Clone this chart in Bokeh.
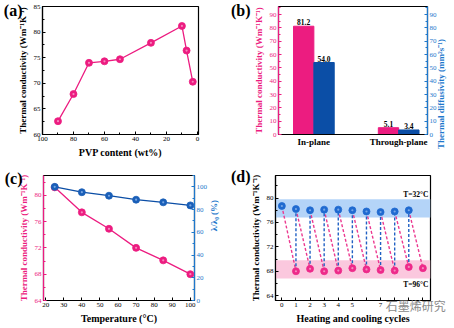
import math
from bokeh.plotting import figure
from bokeh.layouts import column, row
from bokeh.models import Range1d, LinearAxis, FixedTicker, BoxAnnotation, ColumnDataSource
from bokeh.core.properties import value
from bokeh.transform import dodge
from bokeh.embed import file_html
from bokeh.resources import INLINE

# ---------------- data ----------------
# (a)
pvp_content = [90, 80, 70, 60, 50, 30, 10, 7, 3]
pvp_tc = [62.6, 67.9, 74.0, 74.3, 74.7, 77.9, 81.2, 76.4, 70.3]
# (b)
directions = ["In-plane", "Through-plane"]
dir_tc = [81.2, 5.1]
dir_diff = [54.0, 3.4]
# (c)
temperature = [25, 40, 55, 70, 85, 100]
temp_tc = [81.2, 77.4, 74.9, 72.0, 70.1, 68.0]
temp_ratio = [100.0, 95.3, 92.2, 88.7, 86.4, 83.7]
# (d)
cycles_cool = [0, 1, 2, 3, 4, 5, 6, 7, 8, 9]
tc_cool = [78.7, 78.2, 78.0, 78.1, 78.1, 78.0, 77.8, 77.7, 77.8, 78.0]
cycles_hot = [1, 2, 3, 4, 5, 6, 7, 8, 9, 10]
tc_hot = [68.0, 68.4, 68.0, 68.1, 68.5, 68.3, 68.2, 68.1, 68.7, 68.5]
band_cool = [76.8, 79.8]
band_hot = [66.8, 69.8]
label_cool = "T=32°C"
label_hot = "T=96°C"
watermark = "石墨烯研究"

PINK = "#EC1C80"
BLUE = "#0B4EA6"
BLUE_AX = "#1E78CC"
SERIF = "Liberation Serif"


def style_axis(ax, color="black", label_size="9px", tick_size="7px"):
    ax.axis_line_color = color
    ax.axis_line_width = 1.2
    ax.major_tick_line_color = color
    ax.minor_tick_line_color = color
    ax.major_tick_in = 3
    ax.major_tick_out = 0
    ax.minor_tick_in = 2
    ax.minor_tick_out = 0
    ax.major_label_text_font = SERIF
    ax.major_label_text_font_size = tick_size
    ax.major_label_text_color = color
    ax.major_label_standoff = 2
    ax.axis_label_text_font = SERIF
    ax.axis_label_text_font_style = "bold"
    ax.axis_label_text_font_size = label_size
    ax.axis_label_text_color = color
    ax.axis_label_standoff = 3


def base_fig(x_range, y_range, left, right, top, bottom):
    p = figure(width=227, height=164, x_range=x_range, y_range=y_range,
               output_backend="svg", toolbar_location=None,
               min_border_left=left, min_border_right=right,
               min_border_top=top, min_border_bottom=bottom)
    p.grid.visible = False
    p.outline_line_color = "black"
    p.outline_line_width = 1.2
    p.background_fill_color = "white"
    p.border_fill_color = "white"
    return p


def text_axis(p, side, txt, tick_value, standoff, size="16px", color="black",
              font=SERIF, style="bold", orientation="horizontal", y_range_name=None):
    """An unlined axis that carries one text as its only tick label."""
    kw = {}
    if y_range_name is not None:
        kw["y_range_name"] = y_range_name
    ax = LinearAxis(ticker=FixedTicker(ticks=[tick_value]),
                    major_label_overrides={tick_value: txt}, **kw)
    ax.axis_line_color = None
    ax.major_tick_line_color = None
    ax.minor_tick_line_color = None
    ax.major_tick_out = 0
    ax.major_tick_in = 0
    ax.major_label_text_font = font
    ax.major_label_text_font_style = style
    ax.major_label_text_font_size = size
    ax.major_label_text_color = color
    ax.major_label_standoff = standoff
    ax.major_label_orientation = orientation
    p.add_layout(ax, side)
    return ax


def balls(p, x, y, color, hl, size=7, **kw):
    p.scatter(x, y, size=size, fill_color=color, line_color=color, line_width=0.8, **kw)
    p.scatter(x, y, size=2.2, fill_color=hl, line_color=None, fill_alpha=0.8, **kw)


# ---------------- (a) ----------------
pa = base_fig(Range1d(100, -0.7), Range1d(60, 85), 42, 29, 6, 30)
pa.line(pvp_content, pvp_tc, line_color=PINK, line_width=1.3)
balls(pa, pvp_content, pvp_tc, PINK, "#F7A3CB")
pa.xaxis.ticker = FixedTicker(ticks=[100, 80, 60, 40, 20, 0], minor_ticks=list(range(0, 101, 10)))
pa.yaxis.ticker = FixedTicker(ticks=[60, 65, 70, 75, 80, 85], minor_ticks=[62.5, 67.5, 72.5, 77.5, 82.5])
pa.xaxis.axis_label = "PVP content (wt%)"
pa.yaxis.axis_label = "Thermal conductivity (Wm⁻¹K⁻¹)"
style_axis(pa.xaxis[0], label_size="10px")
style_axis(pa.yaxis[0])
text_axis(pa, "left", "(a)", 84.2, -8)

# ---------------- (b) ----------------
pb = base_fig(Range1d(-0.417, 1.34), Range1d(0, 96), 49, 23, 6, 30)
pb.extra_y_ranges = {"diff": Range1d(0, 96)}
xi = list(range(len(directions)))
src_b = ColumnDataSource(dict(x=xi, tc=dir_tc, diff=dir_diff,
                              tct=[f"{v:.1f}" for v in dir_tc],
                              dft=[f"{v:.1f}" for v in dir_diff]))
pb.vbar(x=dodge("x", -0.12), top="tc", width=0.24, source=src_b,
        fill_color=PINK, line_color=PINK)
pb.vbar(x=dodge("x", 0.12), top="diff", width=0.24, source=src_b,
        fill_color=BLUE, line_color=BLUE, y_range_name="diff")
pb.text(x=dodge("x", -0.12), y="tc", text="tct", source=src_b, text_align="center",
        text_baseline="bottom", y_offset=-1, text_font=value(SERIF), text_font_style="bold",
        text_font_size="7.5px", text_color="black")
pb.text(x=dodge("x", 0.12), y="diff", text="dft", source=src_b, text_align="center",
        text_baseline="bottom", y_offset=-1, text_font=value(SERIF), text_font_style="bold",
        text_font_size="7.5px", text_color="black", y_range_name="diff")
pb.xaxis.ticker = FixedTicker(ticks=xi)
pb.xaxis.major_label_overrides = {i: d for i, d in enumerate(directions)}
style_axis(pb.xaxis[0])
pb.xaxis.major_label_text_font_size = "9px"
pb.xaxis.major_label_text_font_style = "bold"
pb.xaxis.major_tick_in = 0
pb.yaxis.ticker = FixedTicker(ticks=list(range(0, 91, 10)), minor_ticks=list(range(5, 96, 10)))
pb.yaxis.axis_label = "Thermal conductivity (Wm⁻¹K⁻¹)"
style_axis(pb.yaxis[0], color=PINK)
rb = LinearAxis(y_range_name="diff",
                ticker=FixedTicker(ticks=list(range(0, 91, 10)), minor_ticks=list(range(5, 96, 10))))
style_axis(rb, color=BLUE_AX)
pb.add_layout(rb, "right")
text_axis(pb, "right", "Thermal diffusivity (mm²s⁻¹)", 47, 2, size="9px", color=BLUE_AX,
          orientation=math.pi / 2, y_range_name="diff")
text_axis(pb, "left", "(b)", 93, 0)

# ---------------- (c) ----------------
pc = base_fig(Range1d(18.8, 102.3), Range1d(64, 83), 43, 25, 10, 27)
pc.extra_y_ranges = {"ratio": Range1d(0, 110)}
pc.line(temperature, temp_tc, line_color=PINK, line_width=1.3)
balls(pc, temperature, temp_tc, PINK, "#F7A3CB")
pc.line(temperature, temp_ratio, line_color=BLUE, line_width=1.3, y_range_name="ratio")
balls(pc, temperature, temp_ratio, "#1A5FB8", "#8DB6EE", y_range_name="ratio")
pc.xaxis.ticker = FixedTicker(ticks=list(range(20, 101, 10)))
pc.xaxis.axis_label = "Temperature (°C)"
style_axis(pc.xaxis[0], label_size="10px")
pc.yaxis.ticker = FixedTicker(ticks=[64, 68, 72, 76, 80], minor_ticks=[66, 70, 74, 78, 82])
pc.yaxis.axis_label = "Thermal conductivity (Wm⁻¹K⁻¹)"
style_axis(pc.yaxis[0], color=PINK)
rc = LinearAxis(y_range_name="ratio",
                ticker=FixedTicker(ticks=list(range(0, 101, 20)), minor_ticks=list(range(10, 111, 20))))
style_axis(rc, color=BLUE_AX)
pc.add_layout(rc, "right")
text_axis(pc, "right", "λ/λ₀ (%)", 61, 4, size="9px", color=BLUE_AX,
          orientation=math.pi / 2, y_range_name="ratio")
text_axis(pc, "left", "(c)", 82.5, -7)

# ---------------- (d) ----------------
pd_ = base_fig(Range1d(-0.45, 10.54), Range1d(63.2, 83.7), 48, 24, 11, 28)
pd_.add_layout(BoxAnnotation(bottom=band_cool[0], top=band_cool[1], fill_color="#B4D4F8",
                             fill_alpha=1.0, line_color=None, level="underlay"))
pd_.add_layout(BoxAnnotation(bottom=band_hot[0], top=band_hot[1], fill_color="#FBC8DE",
                             fill_alpha=1.0, line_color=None, level="underlay"))
pd_.segment(x0=cycles_cool, y0=tc_cool, x1=cycles_hot, y1=tc_hot, line_color="#EC3A90",
            line_width=1.4, line_dash="3 2")
pd_.segment(x0=cycles_hot[:-1], y0=tc_hot[:-1], x1=cycles_cool[1:], y1=tc_cool[1:],
            line_color="#2060C4", line_width=1.4, line_dash="3 2")
balls(pd_, cycles_cool, tc_cool, "#1F6AD0", "#8DB6EE")
balls(pd_, cycles_hot, tc_hot, "#EE2A8A", "#F7A3CB")
pd_.text(x=[10.4], y=[80.6], text=[label_cool], text_align="right", text_baseline="middle",
         text_font=value(SERIF), text_font_style="bold", text_font_size="7.5px", text_color="black")
pd_.text(x=[10.4], y=[65.9], text=[label_hot], text_align="right", text_baseline="middle",
         text_font=value(SERIF), text_font_style="bold", text_font_size="7.5px", text_color="black")
pd_.xaxis.ticker = FixedTicker(ticks=list(range(0, 11)))
pd_.xaxis.major_label_overrides = {6: "", 8: "", 9: "", 10: ""}
pd_.xaxis.axis_label = "Heating and cooling cycles"
style_axis(pd_.xaxis[0], label_size="10px")
pd_.yaxis.ticker = FixedTicker(ticks=[64, 68, 72, 76, 80], minor_ticks=[66, 70, 74, 78, 82])
pd_.yaxis.axis_label = "Thermal conductivity (Wm⁻¹K⁻¹)"
style_axis(pd_.yaxis[0])
text_axis(pd_, "left", "(d)", 83.6, -3)
text_axis(pd_, "below", watermark, 9.5, -30, size="12px", color="#8a8a8a",
          font="Noto Sans CJK SC", style="normal")

layout = column(row(pa, pb, spacing=0), row(pc, pd_, spacing=0), spacing=0)
open("out.html", "w").write(file_html(layout, INLINE))
